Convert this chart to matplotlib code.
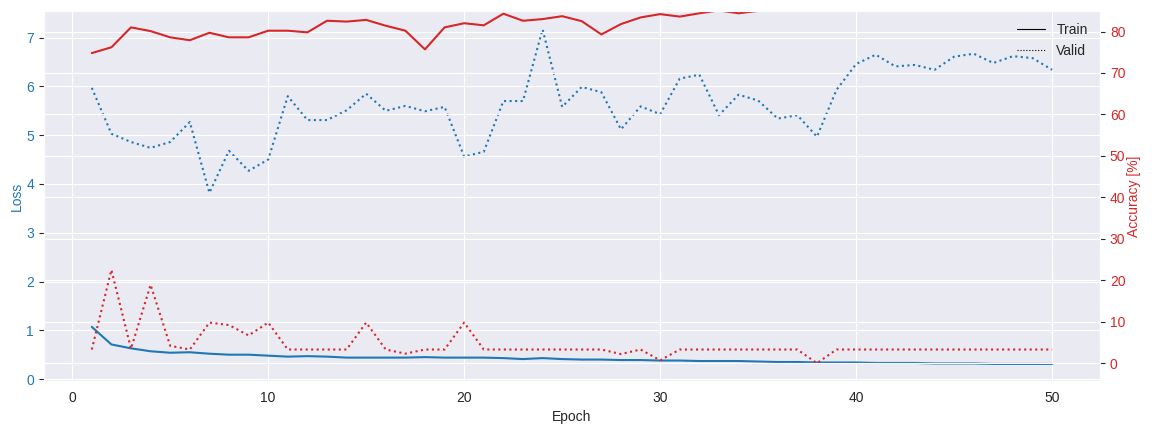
import numpy as np
import matplotlib
matplotlib.use("Agg")
import matplotlib.pyplot as plt
import seaborn as sns
from matplotlib.lines import Line2D

sns.set_style("darkgrid")
plt.rcParams['font.family'] = ['Liberation Sans', 'DejaVu Sans']

# valori
epochs = np.arange(1, 51)

train_loss = [1.07, 0.71, 0.63, 0.57, 0.54, 0.55, 0.52, 0.50, 0.50, 0.48,
              0.46, 0.47, 0.46, 0.44, 0.44, 0.44, 0.44, 0.45, 0.44, 0.44,
              0.44, 0.43, 0.41, 0.43, 0.41, 0.40, 0.40, 0.39, 0.39, 0.38,
              0.38, 0.37, 0.37, 0.37, 0.36, 0.35, 0.35, 0.34, 0.34, 0.34,
              0.33, 0.33, 0.33, 0.32, 0.32, 0.32, 0.31, 0.31, 0.31, 0.31]

valid_loss = [5.97, 5.03, 4.86, 4.74, 4.86, 5.27, 3.82, 4.68, 4.27, 4.50,
              5.80, 5.31, 5.31, 5.51, 5.85, 5.50, 5.60, 5.49, 5.58, 4.56,
              4.66, 5.70, 5.70, 7.17, 5.58, 5.99, 5.88, 5.12, 5.59, 5.43,
              6.16, 6.24, 5.41, 5.83, 5.71, 5.34, 5.41, 4.97, 5.93, 6.46,
              6.65, 6.41, 6.44, 6.34, 6.61, 6.67, 6.48, 6.62, 6.58, 6.34]

train_acc = [74.8, 76.2, 81.0, 80.1, 78.6, 77.9, 79.7, 78.6, 78.6, 80.2,
             80.2, 79.8, 82.6, 82.4, 82.8, 81.4, 80.2, 75.7, 81.0, 82.0,
             81.5, 84.3, 82.6, 83.0, 83.7, 82.5, 79.3, 81.8, 83.4, 84.2,
             83.6, 84.4, 85.1, 84.4, 85.0, 86.0, 86.5, 86.2, 86.8, 87.0,
             87.3, 87.1, 87.5, 87.4, 87.8, 87.6, 88.0, 87.9, 88.2, 88.1]

valid_acc = [3.3, 22.5, 3.5, 18.9, 4.2, 3.3, 9.8, 9.2, 6.7, 9.8,
             3.3, 3.3, 3.3, 3.3, 9.8, 3.3, 2.3, 3.3, 3.3, 9.8,
             3.3, 3.3, 3.3, 3.3, 3.3, 3.3, 3.3, 2.2, 3.3, 0.7,
             3.3, 3.3, 3.3, 3.3, 3.3, 3.3, 3.3, 0.0, 3.3, 3.3,
             3.3, 3.3, 3.3, 3.3, 3.3, 3.3, 3.3, 3.3, 3.3, 3.3]

c_loss = 'tab:blue'
c_acc = 'tab:red'

fig, ax1 = plt.subplots(figsize=(11.52, 4.32), dpi=100)

ax1.plot(epochs, train_loss, color=c_loss, linestyle='-')
ax1.plot(epochs, valid_loss, color=c_loss, linestyle=':')
ax1.set_xlabel('Epoch')
ax1.set_ylabel('Loss', color=c_loss, labelpad=2)
ax1.tick_params(axis='y', labelcolor=c_loss)
ax1.set_ylim(-0.04, 7.55)
ax1.set_xticks([0, 10, 20, 30, 40, 50])

ax2 = ax1.twinx()
ax2.plot(epochs, train_acc, color=c_acc, linestyle='-')
ax2.plot(epochs, valid_acc, color=c_acc, linestyle=':')
ax2.set_ylabel('Accuracy [%]', color=c_acc, labelpad=1)
ax2.tick_params(axis='y', labelcolor=c_acc)
ax2.set_ylim(-4.3, 85)

handles = [Line2D([0], [0], color='black', linestyle='-', lw=0.8),
           Line2D([0], [0], color='black', linestyle=':', lw=0.8)]
ax2.legend(handles, ['Train', 'Valid'], loc='upper right', frameon=False)

fig.subplots_adjust(left=0.038, right=0.955, top=0.975, bottom=0.118)
fig.savefig('out.png')
